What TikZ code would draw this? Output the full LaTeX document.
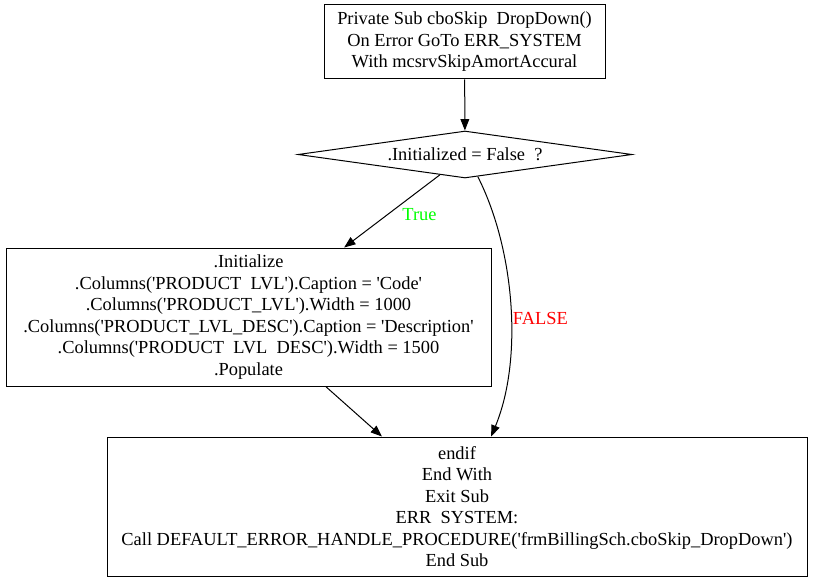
\documentclass[tikz,border=0pt]{standalone}
\usepackage{fontspec}
\setmainfont{Liberation Serif}
\usepackage{xcolor}
\usetikzlibrary{shapes.geometric, arrows.meta, positioning}

\definecolor{truegreen}{RGB}{0,255,0}
\definecolor{falsered}{RGB}{255,0,0}
\newcommand{\sq}{\textquotesingle}

\begin{document}
\begin{tikzpicture}[
    x=0.75pt, y=-0.75pt,
    font=\fontsize{13.8}{16.1}\selectfont,
    block/.style={rectangle, draw, line width=0.75pt, align=center, inner sep=0pt},
    decision/.style={diamond, draw, line width=0.75pt, aspect=7.1, inner sep=0pt, minimum width=250.5pt, minimum height=35.25pt, align=center},
    arrow/.style={-{Triangle[length=8.5pt,width=6.5pt]}, line width=0.75pt},
    truelbl/.style={text=truegreen},
    falselbl/.style={text=falsered},
]
    \useasboundingbox (0,0) rectangle (813,581);

    \node[block, minimum width=210.75pt, minimum height=55.5pt] at (464.5,42) (subStart)
        {Private Sub cboSkip\enspace DropDown()\\On Error GoTo ERR\_SYSTEM\\With mcsrvSkipAmortAccural};
    \node[decision] at (465,154.5) (initCheck) {.Initialized = False\enspace ?};
    \node[block, minimum width=363.75pt, minimum height=103.5pt] at (248.5,317) (initCols)
        {.Initialize\\.Columns(\sq PRODUCT\enspace LVL\sq).Caption = \sq Code\sq\\.Columns(\sq PRODUCT\_LVL\sq).Width = 1000\\.Columns(\sq PRODUCT\_LVL\_DESC\sq).Caption = \sq Description\sq\\.Columns(\sq PRODUCT\enspace LVL\enspace DESC\sq).Width = 1500\\.Populate};
    \node[block, minimum width=525pt, minimum height=104.25pt] at (457,506.5) (endSub)
        {endif\\End With\\Exit Sub\\ERR\enspace SYSTEM:\\Call DEFAULT\_ERROR\_HANDLE\_PROCEDURE(\sq frmBillingSch.cboSkip\_DropDown\sq)\\End Sub};

    \draw[arrow] (subStart) -- (initCheck);
    \draw[arrow] (initCheck.-141) -- node[truelbl, midway, xshift=20.6pt, yshift=-2.25pt] {True} (initCols.36);
    \draw[arrow] (initCheck.-60) .. controls ++(37,73) and ++(32,-77) .. node[falselbl, midway, xshift=22.5pt, yshift=-9.75pt] {FALSE} (endSub.64.6);
    \draw[arrow] (initCols.-42) -- (endSub.137);
\end{tikzpicture}
\end{document}
